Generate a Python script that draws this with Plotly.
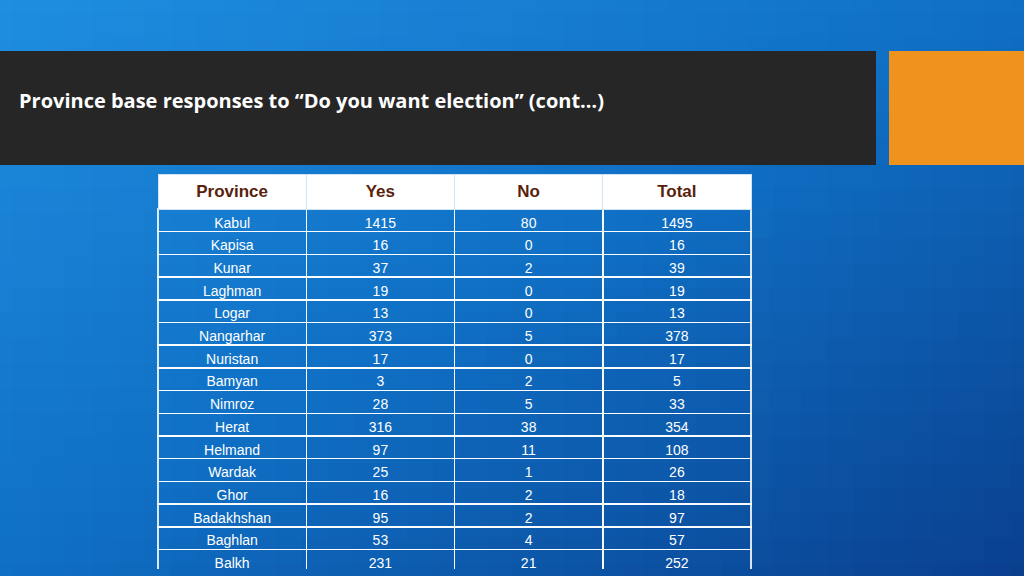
import plotly.graph_objects as go
import numpy as np

provinces = ["Kabul", "Kapisa", "Kunar", "Laghman", "Logar", "Nangarhar", "Nuristan", "Bamyan",
             "Nimroz", "Herat", "Helmand", "Wardak", "Ghor", "Badakhshan", "Baghlan", "Balkh"]
yes = [1415, 16, 37, 19, 13, 373, 17, 3, 28, 316, 97, 25, 16, 95, 53, 231]
no = [80, 0, 2, 0, 0, 5, 0, 2, 5, 38, 11, 1, 2, 2, 4, 21]
total = [1495, 16, 39, 19, 13, 378, 17, 5, 33, 354, 108, 26, 18, 97, 57, 252]
headers = ["<b>Province</b>", "<b>Yes</b>", "<b>No</b>", "<b>Total</b>"]

W, H = 1024, 576
fig = go.Figure()

# background gradient (decoration only)
gx = np.linspace(0, 1, 40)
gy = np.linspace(0, 1, 24)
gz = np.add.outer(1 - gy, gx)
fig.add_trace(go.Heatmap(
    z=gz, x=gx, y=gy, showscale=False, hoverinfo="skip",
    colorscale=[[0, "#1f8ee0"], [0.5, "#0f6fc4"], [1, "#0a3f8e"]],
    zmin=0, zmax=2, xaxis="x", yaxis="y"))

fig.add_trace(go.Table(
    domain=dict(x=[158 / W, 751 / W], y=[1 - 569 / H, 1 - 174 / H]),
    columnwidth=[1, 1, 1, 1],
    header=dict(values=headers, height=31, fill_color="white",
                line=dict(color="#cfe3f5", width=1),
                font=dict(family="Liberation Sans, Arial", size=17, color="#5a1f0c"),
                align="center"),
    cells=dict(values=[provinces, yes, no, total], height=22.7,
               fill_color="rgba(0,0,0,0)",
               line=dict(color="rgba(255,255,255,0.85)", width=1.5),
               font=dict(family="Liberation Sans, Arial", size=14, color="white"),
               align="center")))

fig.update_layout(
    width=W, height=H, margin=dict(l=0, r=0, t=0, b=0),
    paper_bgcolor="#0f6fc4", plot_bgcolor="rgba(0,0,0,0)",
    xaxis=dict(visible=False, range=[0, 1], domain=[0, 1], fixedrange=True),
    yaxis=dict(visible=False, range=[0, 1], domain=[0, 1], fixedrange=True),
    shapes=[
        dict(type="rect", xref="paper", yref="paper", x0=0, x1=876 / W,
             y0=1 - 165 / H, y1=1 - 51 / H, fillcolor="#262626", line_width=0, layer="above"),
        dict(type="rect", xref="paper", yref="paper", x0=889 / W, x1=1,
             y0=1 - 165 / H, y1=1 - 51 / H, fillcolor="#f0931e", line_width=0, layer="above"),
    ],
    annotations=[dict(
        text="<b>Province base responses to \u201cDo you want election\u201d (cont\u2026)</b>",
        xref="paper", yref="paper", x=17 / W, y=1 - 100 / H, xanchor="left", yanchor="middle",
        showarrow=False, font=dict(family="Open Sans, Liberation Sans", size=20, color="white"))],
)

fig.write_html("out.html", config={"displayModeBar": False},
               post_script="document.body.style.margin='0';")
